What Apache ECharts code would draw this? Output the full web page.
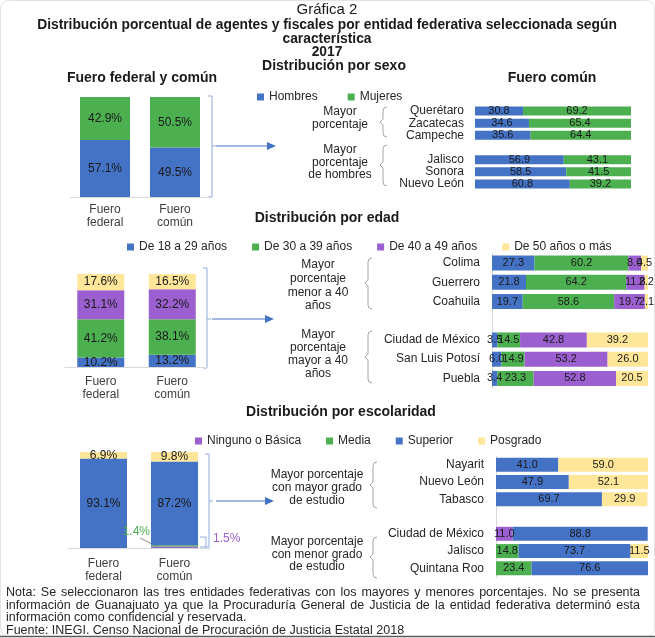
<!DOCTYPE html>
<html><head><meta charset="utf-8">
<script src="https://cdn.jsdelivr.net/npm/echarts/dist/echarts.min.js"></script>
<style>html,body{margin:0;padding:0;background:#fff}#c{width:655px;height:638px}</style>
</head><body><div id="c"></div>
<script>
// ---------------- DATA ----------------
const leftCats = ['Fuero\nfederal', 'Fuero\ncomún'];

const sexoNames = ['Hombres', 'Mujeres'];
const sexoLeftHombres = [57.1, 49.5];
const sexoLeftMujeres = [42.9, 50.5];
const sexoRightCats = ['Querétaro', 'Zacatecas', 'Campeche', '', 'Jalisco', 'Sonora', 'Nuevo León'];
const sexoRightHombres = [30.8, 34.6, 35.6, null, 56.9, 58.5, 60.8];
const sexoRightMujeres = [69.2, 65.4, 64.4, null, 43.1, 41.5, 39.2];

const edadNames = ['De 18 a 29 años', 'De 30 a 39 años', 'De 40 a 49 años', 'De 50 años o más'];
const edadLeft18 = [10.2, 13.2];
const edadLeft30 = [41.2, 38.1];
const edadLeft40 = [31.1, 32.2];
const edadLeft50 = [17.6, 16.5];
const edadRightCats = ['Colima', 'Guerrero', 'Coahuila', '', 'Ciudad de México', 'San Luis Potosí', 'Puebla'];
const edadRight18 = [27.3, 21.8, 19.7, null, 3.5, 6.0, 3.4];
const edadRight30 = [60.2, 64.2, 58.6, null, 14.5, 14.9, 23.3];
const edadRight40 = [8.0, 11.8, 19.7, null, 42.8, 53.2, 52.8];
const edadRight50 = [4.5, 2.2, 2.1, null, 39.2, 26.0, 20.5];

const escNames = ['Ninguno o Básica', 'Media', 'Superior', 'Posgrado'];
const escLeftNinguno = [0, 1.5];
const escLeftMedia = [0, 1.4];
const escLeftSuperior = [93.1, 87.2];
const escLeftPosgrado = [6.9, 9.8];
const escRightCats = ['Nayarit', 'Nuevo León', 'Tabasco', '', 'Ciudad de México', 'Jalisco', 'Quintana Roo'];
const escRightNinguno = [null, null, null, null, 11.0, null, null];
const escRightMedia = [null, null, null, null, null, 14.8, 23.4];
const escRightSuperior = [41.0, 47.9, 69.7, null, 88.8, 73.7, 76.6];
const escRightPosgrado = [59.0, 52.1, 29.9, null, null, 11.5, null];

const sexoGroups = ['Mayor\nporcentaje', 'Mayor\nporcentaje\nde hombres'];
const edadGroups = ['Mayor\nporcentaje\nmenor a 40\naños', 'Mayor\nporcentaje\nmayor a 40\naños'];
const escGroups = ['Mayor porcentaje\ncon mayor grado\nde estudio', 'Mayor porcentaje\ncon menor grado\nde estudio'];

const titleTop = 'Gráfica 2';
const titleMain = ['Distribución porcentual de agentes y fiscales por entidad federativa seleccionada según', 'característica', '2017'];
const subSexo = 'Distribución por sexo';
const subEdad = 'Distribución por edad';
const subEsc = 'Distribución por escolaridad';
const leftHead = 'Fuero federal y común';
const rightHead = 'Fuero común';
const footJustified = [
  'Nota: Se seleccionaron las tres entidades federativas con los mayores y menores porcentajes. No se presenta',
  'información de Guanajuato ya que la Procuraduría General de Justicia de la entidad federativa determinó esta'
];
const footPlain = [
  'información como confidencial y reservada.',
  'Fuente: INEGI. Censo Nacional de Procuración de Justicia Estatal 2018'
];

// ---------------- STYLE ----------------
const FONT = "'Liberation Sans', Arial, Helvetica, sans-serif";
const C_BLUE = '#4472C4', C_GREEN = '#4CAF50', C_PURPLE = '#9B5FCF', C_YELLOW = '#FFE699';
const TXT = '#262626';

const chart = echarts.init(document.getElementById('c'), null, {renderer: 'canvas'});

function leftCatAxis(gi, margin) {
  return {gridIndex: gi, type: 'category', data: leftCats,
    axisLine: {show: true, lineStyle: {color: '#d9d9d9', width: 1}},
    axisTick: {show: false},
    axisLabel: {margin, interval: 0, fontSize: 12, lineHeight: 13, color: '#404040', fontFamily: FONT}};
}
function valAxis(gi) { return {gridIndex: gi, type: 'value', min: 0, max: 100, show: false}; }
function rightCatAxis(gi, cats, margin, line) {
  return {gridIndex: gi, type: 'category', data: cats, inverse: true,
    axisLine: {show: line, lineStyle: {color: '#d9d9d9', width: 1}},
    axisTick: {show: false},
    axisLabel: {margin, interval: 0, fontSize: 12, color: TXT, fontFamily: FONT}};
}
const fmtPct = p => (p.value == null || p.value === 0) ? '' : Number(p.value).toFixed(1) + '%';
const fmtNum = p => (p.value == null || p.value === 0) ? '' : Number(p.value).toFixed(1);

function bar(name, data, gi, color, bw, left) {
  return {type: 'bar', name, data, xAxisIndex: gi, yAxisIndex: gi, stack: 's' + gi,
    barWidth: bw, itemStyle: {color}, silent: true, emphasis: {disabled: true},
    label: {show: true, position: 'inside', formatter: left ? fmtPct : fmtNum,
      fontSize: left ? 12 : 11, color: '#1a1a1a', fontFamily: FONT}};
}
function special(arr, idx, lab) {
  return arr.map((v, i) => i === idx ? {value: v, label: lab} : {value: v, label: {show: false}});
}

const series = [
  bar('Hombres', sexoLeftHombres, 0, C_BLUE, 50, true),
  bar('Mujeres', sexoLeftMujeres, 0, C_GREEN, 50, true),
  bar('Hombres', sexoRightHombres, 1, C_BLUE, 9, false),
  bar('Mujeres', sexoRightMujeres, 1, C_GREEN, 9, false),
  bar(edadNames[0], edadLeft18, 2, C_BLUE, 47, true),
  bar(edadNames[1], edadLeft30, 2, C_GREEN, 47, true),
  bar(edadNames[2], edadLeft40, 2, C_PURPLE, 47, true),
  bar(edadNames[3], edadLeft50, 2, C_YELLOW, 47, true),
  bar(edadNames[0], edadRight18, 3, C_BLUE, 15, false),
  bar(edadNames[1], edadRight30, 3, C_GREEN, 15, false),
  bar(edadNames[2], edadRight40, 3, C_PURPLE, 15, false),
  bar(edadNames[3], edadRight50, 3, C_YELLOW, 15, false),
  bar(escNames[0], special(escLeftNinguno, 1, {show: true, position: 'right', distance: 15, offset: [0, -9], color: C_PURPLE, fontSize: 12, formatter: fmtPct}), 4, C_PURPLE, 47, true),
  bar(escNames[1], special(escLeftMedia, 1, {show: true, position: 'left', distance: 1, offset: [0, -14], color: C_GREEN, fontSize: 12, formatter: fmtPct}), 4, C_GREEN, 47, true),
  bar(escNames[2], escLeftSuperior, 4, C_BLUE, 47, true),
  bar(escNames[3], escLeftPosgrado, 4, C_YELLOW, 47, true),
  bar(escNames[0], escRightNinguno, 5, C_PURPLE, 14, false),
  bar(escNames[1], escRightMedia, 5, C_GREEN, 14, false),
  bar(escNames[2], escRightSuperior, 5, C_BLUE, 14, false),
  bar(escNames[3], escRightPosgrado, 5, C_YELLOW, 14, false)
];

function legend(data, left, top, gap) {
  return {data, left, top, orient: 'horizontal', icon: 'rect', itemWidth: 7, itemHeight: 7,
    itemGap: gap, selectedMode: false, textStyle: {fontSize: 12, color: TXT, fontFamily: FONT}};
}

// ---------------- GRAPHICS ----------------
function txt(text, x, y, size, o) {
  o = o || {};
  return {type: 'text', x, y, silent: true, z: 10, style: {text, fontSize: size, fontFamily: FONT,
    fontWeight: o.bold ? 'bold' : 'normal', fill: o.color || '#1a1a1a',
    textAlign: o.align || 'center', align: o.align || 'center',
    textVerticalAlign: 'middle', verticalAlign: 'middle', lineHeight: o.lh || Math.round(size * 1.15)}};
}
function pl(points, color, w) {
  return {type: 'polyline', silent: true, shape: {points}, style: {stroke: color, lineWidth: w || 1, fill: null}};
}
function arrow(x0, x1, y) {
  return [pl([[x0, y], [x1 - 7, y]], C_BLUE, 1),
    {type: 'polygon', silent: true, shape: {points: [[x1, y], [x1 - 9, y - 4], [x1 - 9, y + 4]]}, style: {fill: C_BLUE}}];
}
function rBracket(x, top, bot, tick) {
  return [pl([[x, top], [x + 4, top], [x + 4, bot], [x, bot]], '#8FAADC', 1),
    pl([[x + 4, tick], [x + 8, tick]], '#8FAADC', 1)];
}
function lBrace(x, top, bot, tick) {
  return pl([[x + 4, top], [x + 1, top + 1], [x, top + 4], [x, tick - 3], [x - 3, tick], [x, tick + 3],
    [x, bot - 4], [x + 1, bot - 1], [x + 4, bot]], '#a6a6a6', 1);
}

const g = [];
g.push({type: 'rect', silent: true, shape: {x: 0.5, y: 0.5, width: 654, height: 636, r: 8}, style: {fill: null, stroke: '#e3e3e3', lineWidth: 1}});
g.push(pl([[0, 636.5], [655, 636.5]], '#595959', 1.5));
g.push(txt(titleTop, 327, 10, 15));
g.push(txt(titleMain[0], 327, 25, 13.8, {bold: true}));
g.push(txt(titleMain[1], 327, 39, 13.8, {bold: true}));
g.push(txt(titleMain[2], 327, 52.5, 13.8, {bold: true}));
g.push(txt(subSexo, 334, 66, 14, {bold: true}));
g.push(txt(leftHead, 142, 78, 14, {bold: true}));
g.push(txt(rightHead, 552, 78, 14, {bold: true}));
g.push(txt(subEdad, 327, 218, 14, {bold: true}));
g.push(txt(subEsc, 341, 412, 14, {bold: true}));

g.push(...rBracket(208, 96, 197, 146), ...arrow(216, 276, 146));
g.push(...rBracket(203, 268, 368, 319), ...arrow(212, 274, 319));
g.push(...rBracket(205, 454, 547, 501), ...arrow(216, 274, 501));
g.push(pl([[200, 537], [206, 537], [206, 547], [200, 547]], '#8FAADC', 1));
g.push(pl([[140, 538], [158, 547]], '#8c8c8c', 1));

g.push(txt(sexoGroups[0], 340, 118, 12, {color: TXT, lh: 12.5}), lBrace(383, 107, 137, 122));
g.push(txt(sexoGroups[1], 340, 162.5, 12, {color: TXT, lh: 12.5}), lBrace(383, 145, 186, 165));
g.push(txt(edadGroups[0], 318, 285.5, 12, {color: TXT, lh: 13.7}), lBrace(368, 258, 309, 283));
g.push(txt(edadGroups[1], 318, 354, 12, {color: TXT, lh: 13}), lBrace(368, 331, 383, 357));
g.push(txt(escGroups[0], 317, 488, 12, {color: TXT, lh: 13}), lBrace(373, 462, 508, 485));
g.push(txt(escGroups[1], 317, 554.5, 12, {color: TXT, lh: 12.5}), lBrace(373, 537, 578, 557));

const FN_SIZE = 12.5;
const mctx = document.createElement('canvas').getContext('2d');
mctx.font = FN_SIZE + 'px ' + FONT;
const fnY = [593, 605.5, 618, 630.5];
footJustified.forEach((line, li) => {
  const words = line.split(' ');
  const ws = words.map(w => mctx.measureText(w).width);
  const tot = ws.reduce((a, b) => a + b, 0);
  const gap = (640 - 6 - tot) / (words.length - 1);
  let x = 6;
  words.forEach((w, i) => { g.push(txt(w, x, fnY[li], FN_SIZE, {align: 'left', color: TXT})); x += ws[i] + gap; });
});
footPlain.forEach((line, li) => g.push(txt(line, 6, fnY[2 + li], FN_SIZE, {align: 'left', color: TXT})));

const option = {
  animation: false,
  backgroundColor: '#fff',
  textStyle: {fontFamily: FONT},
  legend: [legend(sexoNames, 252, 86, 30), legend(edadNames, 122, 236, 25), legend(escNames, 190, 430, 25)],
  grid: [
    {left: 70, top: 97, width: 140, height: 100},
    {left: 475, top: 105, width: 156, height: 85},
    {left: 65, top: 274, width: 143, height: 93},
    {left: 492, top: 253.5, width: 156, height: 134.5},
    {left: 68, top: 452, width: 142, height: 96},
    {left: 496, top: 456, width: 152, height: 121}
  ].map(o => Object.assign(o, {containLabel: false, outerBoundsMode: 'none'})),
  xAxis: [leftCatAxis(0, 6), valAxis(1), leftCatAxis(2, 8), valAxis(3), leftCatAxis(4, 9), valAxis(5)],
  yAxis: [valAxis(0), rightCatAxis(1, sexoRightCats, 11, false), valAxis(2),
    rightCatAxis(3, edadRightCats, 12, true), valAxis(4), rightCatAxis(5, escRightCats, 12, true)],
  series,
  graphic: {elements: g}
};
chart.setOption(option);
</script></body></html>
